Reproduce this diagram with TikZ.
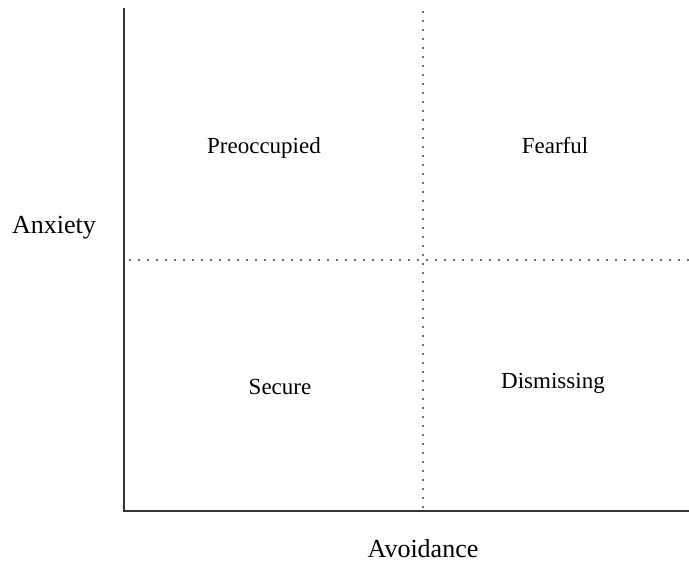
\documentclass[tikz,border=0pt]{standalone}
\usepackage{fontspec}
\setmainfont{Liberation Serif}
\begin{document}
\begin{tikzpicture}[x=1pt,y=-1pt,
  axis/.style={line width=2pt,draw=black!80},
  divider/.style={line width=2.2pt,dash pattern=on 0pt off 9pt,line cap=round,draw=black!75},
  quad/.style={anchor=base,font=\fontsize{23}{26}\selectfont},
  axlabel/.style={anchor=base,font=\fontsize{26}{30}\selectfont}]
\useasboundingbox (0,0) rectangle (689,562);
\coordinate (top) at (124,8);
\coordinate (origin) at (124,511);
\coordinate (right) at (689,511);
\coordinate (vtop) at (423,12);
\coordinate (vbot) at (423,507);
\coordinate (hleft) at (130,260);
\coordinate (hright) at (689,260);
\draw[divider] (vtop) -- (vbot);
\draw[divider] (hleft) -- (hright);
\draw[axis] (top) -- (origin) -- (right);
\node[axlabel] (anx) at (54,233) {Anxiety};
\node[axlabel] (avo) at (423,557) {Avoidance};
\node[quad] (pre) at (264,153) {Preoccupied};
\node[quad] (fea) at (555,153) {Fearful};
\node[quad] (sec) at (280,394) {Secure};
\node[quad] (dis) at (553,388) {Dismissing};
\end{tikzpicture}
\end{document}
